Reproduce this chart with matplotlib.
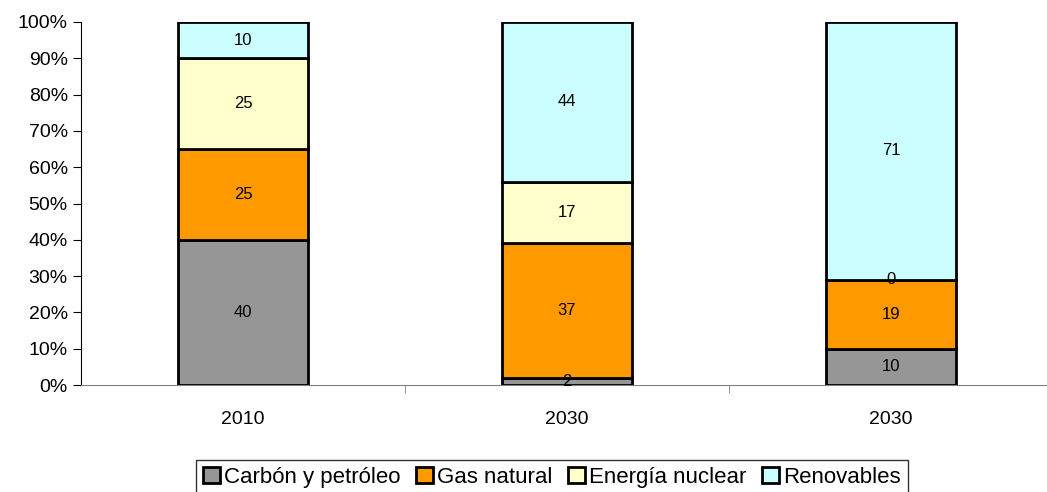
import numpy as np
import matplotlib.pyplot as plt

plt.rcParams['font.family'] = ['Liberation Sans', 'DejaVu Sans']

# data
years = ['2010', '2030', '2030']
series = ['Carbón y petróleo', 'Gas natural', 'Energía nuclear', 'Renovables']
carbon = [40, 2, 10]
gas = [25, 37, 19]
nuclear = [25, 17, 0]
renov = [10, 44, 71]
colors = ['#969696', '#FF9900', '#FFFFCC', '#CCFFFF']

fig = plt.figure(figsize=(10.47, 4.92), dpi=100)
ax = fig.add_axes([81/1047, 1 - 385/492, 966/1047, 363/492])

x = np.arange(len(years))
bottom = np.zeros(len(years))
for name, vals, col in zip(series, [carbon, gas, nuclear, renov], colors):
    vals = np.array(vals, dtype=float)
    ax.bar(x, vals, 0.4, bottom=bottom, color=col, edgecolor='black',
           linewidth=2, label=name, zorder=3)
    for xi, b, v in zip(x, bottom, vals):
        ax.text(xi, b + v / 2, '%d' % v, ha='center', va='center',
                fontsize=12, zorder=4)
    bottom += vals

ax.set_ylim(0, 100)
ax.set_xlim(-0.5, 2.5 - 6/324)
ax.set_yticks(np.arange(0, 101, 10))
ax.set_yticklabels(['%d%%' % v for v in range(0, 101, 10)], fontsize=14)
ax.set_xticks(x)
ax.set_xticklabels(years, fontsize=14)
ax.tick_params(axis='x', length=0, pad=19)
ax.set_xticks([0.5, 1.5], minor=True)
ax.tick_params(axis='x', which='minor', length=6, color='#808080')
ax.tick_params(axis='y', length=6, direction='out')
ax.spines['top'].set_visible(False)
ax.spines['right'].set_visible(False)
ax.spines['bottom'].set_color('#808080')

leg = fig.legend(loc='upper center', bbox_to_anchor=(552/1047, 1 - 460/492),
                 ncol=4, fontsize=16, frameon=True, fancybox=False,
                 edgecolor='black', handlelength=0.75, handleheight=0.75,
                 handletextpad=0.2, columnspacing=0.7, borderpad=0.3,
                 borderaxespad=0)
leg.get_frame().set_linewidth(1)

fig.savefig('out.png', dpi=100)
